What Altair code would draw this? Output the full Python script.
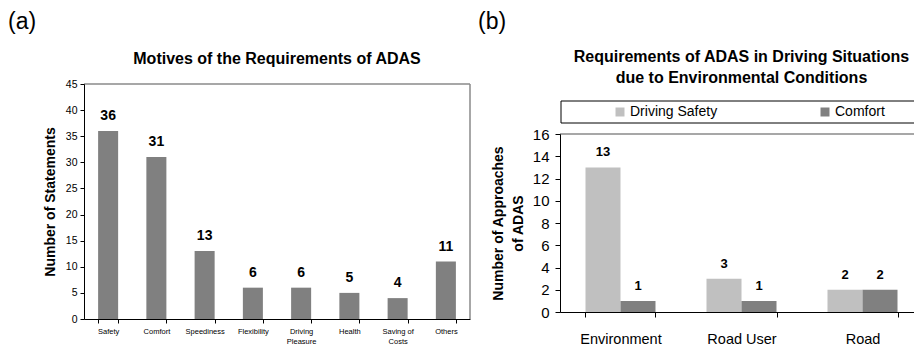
import altair as alt
import pandas as pd

# ---------------- data ----------------
cats_a = ["Safety", "Comfort", "Speediness", "Flexibility", "Driving Pleasure",
          "Health", "Saving of Costs", "Others"]
vals_a = [36, 31, 13, 6, 6, 5, 4, 11]
wrap_a = {"Driving Pleasure": ["Driving", "Pleasure"], "Saving of Costs": ["Saving of", "Costs"]}
title_a = "Motives of the Requirements of ADAS"
ytitle_a = "Number of Statements"
yticks_a = [0, 5, 10, 15, 20, 25, 30, 35, 40, 45]

cats_b = ["Environment", "Road User", "Road"]
series_b = ["Driving Safety", "Comfort"]
safety_b = [13, 3, 2]
comfort_b = [1, 1, 2]
colors_b = ["#C0C0C0", "#808080"]
title_b = ["Requirements of ADAS in Driving Situations", "due to Environmental Conditions"]
ytitle_b = ["Number of Approaches", "of ADAS"]
yticks_b = [0, 2, 4, 6, 8, 10, 12, 14, 16]

FONT = "Liberation Sans"
WA, HA = 386, 235
WB, HB = 363, 178
BORDER = "#8a8a8a"

df_a = pd.DataFrame({"cat": cats_a, "val": vals_a})
rows = []
for c, s, k in zip(cats_b, safety_b, comfort_b):
    rows.append({"cat": c, "series": series_b[0], "val": s})
    rows.append({"cat": c, "series": series_b[1], "val": k})
df_b = pd.DataFrame(rows)
one = pd.DataFrame({"k": [0]})


def note(text, x, y, size, bold=False, align="left"):
    return alt.Chart(one).mark_text(
        text=text, fontSize=size, fontWeight="bold" if bold else "normal",
        align=align, baseline="alphabetic", color="black"
    ).encode(x=alt.value(x), y=alt.value(y))


def rule(x, x2, y, y2):
    return alt.Chart(one).mark_rule(color=BORDER, strokeWidth=1.5).encode(
        x=alt.value(x), x2=alt.value(x2), y=alt.value(y), y2=alt.value(y2))


def ghost(x, y):
    return alt.Chart(one).mark_rect(opacity=0).encode(
        x=alt.value(x), x2=alt.value(x + 1), y=alt.value(y), y2=alt.value(y + 1))


label_expr = " : ".join(
    [f"datum.label == '{k}' ? ['{v[0]}', '{v[1]}']" for k, v in wrap_a.items()]
) + " : datum.label"

# ---------------- panel (a) ----------------
xa_axis = alt.Axis(labelAngle=0, labelFontSize=7.5, labelColor="black", tickSize=4,
                   tickColor="black", domainColor="black", tickBand="extent",
                   labelPadding=4, labelLineHeight=10.5, labelExpr=label_expr,
                   labelOverlap=False, zindex=1)
ya_axis = alt.Axis(values=yticks_a, title=ytitle_a, titleFontSize=14, titleFontWeight="bold",
                   titleColor="black", titlePadding=8, labelFontSize=10.5, labelPadding=3,
                   tickSize=4, grid=False, domainColor="black", tickColor="black",
                   labelColor="black", labelOverlap=False, zindex=1)
xa = alt.X("cat:N", sort=cats_a, title=None,
           scale=alt.Scale(paddingInner=0.585, paddingOuter=0.2925), axis=xa_axis)
ya = alt.Y("val:Q", scale=alt.Scale(domain=[0, 45], nice=False), axis=ya_axis)

bars_a = alt.Chart(df_a).mark_bar(color="#808080").encode(x=xa, y=ya)
text_a = alt.Chart(df_a).mark_text(baseline="alphabetic", dy=-11, fontSize=14,
                                   fontWeight="bold", color="black").encode(
    x=xa, y=ya, text="val:Q")

A = alt.layer(
    ghost(-76, -76), bars_a, text_a,
    rule(0, WA, 0, 0), rule(WA, WA, 0, HA),
    note("(a)", -76, -55.5, 23),
    note(title_a, WA / 2, -20.5, 16, bold=True, align="center"),
).properties(width=WA, height=HA)

# ---------------- panel (b) ----------------
xb_axis = alt.Axis(labelAngle=0, labelFontSize=14.5, labelColor="black", tickSize=5,
                   tickColor="black", domainColor="black", tickBand="extent",
                   labelPadding=15, labelOverlap=False, zindex=1)
yb_axis = alt.Axis(values=yticks_b, title=ytitle_b, titleFontSize=14, titleFontWeight="bold",
                   titleColor="black", titlePadding=7, titleLineHeight=20,
                   labelFontSize=15, labelPadding=6, tickSize=5, grid=False,
                   domainColor="black", tickColor="black", labelColor="black",
                   labelOverlap=False, zindex=1)
xb = alt.X("cat:N", sort=cats_b, title=None,
           scale=alt.Scale(paddingInner=0.4215, paddingOuter=0.2107), axis=xb_axis)
xob = alt.XOffset("series:N", sort=series_b, scale=alt.Scale(paddingInner=0, paddingOuter=0))
yb = alt.Y("val:Q", scale=alt.Scale(domain=[0, 16], nice=False), axis=yb_axis)

legend_b = alt.Legend(title=None, orient="none", legendX=53, legendY=-29,
                      direction="horizontal", columns=2, columnPadding=100,
                      symbolType="square", symbolSize=81, symbolStrokeWidth=0,
                      labelFontSize=14, labelColor="black", labelOffset=3, padding=0)
bars_b = alt.Chart(df_b).mark_bar().encode(
    x=xb, xOffset=xob, y=yb,
    color=alt.Color("series:N", sort=series_b,
                    scale=alt.Scale(domain=series_b, range=colors_b), legend=legend_b))
text_b = alt.Chart(df_b).mark_text(baseline="alphabetic", dy=-11, fontSize=13,
                                   fontWeight="bold", color="black").encode(
    x=xb, xOffset=xob, y=yb, text="val:Q")
box_b = alt.Chart(one).mark_rect(fillOpacity=0, stroke="black", strokeWidth=1).encode(
    x=alt.value(1), x2=alt.value(WB + 10), y=alt.value(-33), y2=alt.value(-11))

B = alt.layer(
    bars_b, text_b,
    rule(0, WB, 0, 0), rule(WB, WB, 0, HB),
    box_b, ghost(WB + 20, 0),
    note("(b)", -82, -105.5, 23),
    note(title_b[0], WB / 2, -72, 16, bold=True, align="center"),
    note(title_b[1], WB / 2, -51, 16, bold=True, align="center"),
).properties(width=WB, height=HB)

spacer = alt.Chart(one).mark_point(opacity=0).encode(
    x=alt.value(0), y=alt.value(0)).properties(width=WB, height=50)

colB = alt.vconcat(spacer, B, spacing=0, bounds="flush").resolve_scale(
    color="independent").resolve_legend(color="independent")

# content right edge = 76 + WA + 90 + WB + 21 ; clip the svg so the page fits the window
right_pad = 906 - (76 + WA + 90 + WB + 21)
chart = alt.hconcat(A, colB, spacing=90, bounds="flush").resolve_scale(
    color="independent").resolve_legend(color="independent").properties(
    padding={"left": 0, "top": 0, "right": right_pad, "bottom": 0}
).configure(font=FONT, view=alt.ViewConfig(strokeWidth=0))

chart.save("out.html", embed_options={"renderer": "svg", "actions": False})
